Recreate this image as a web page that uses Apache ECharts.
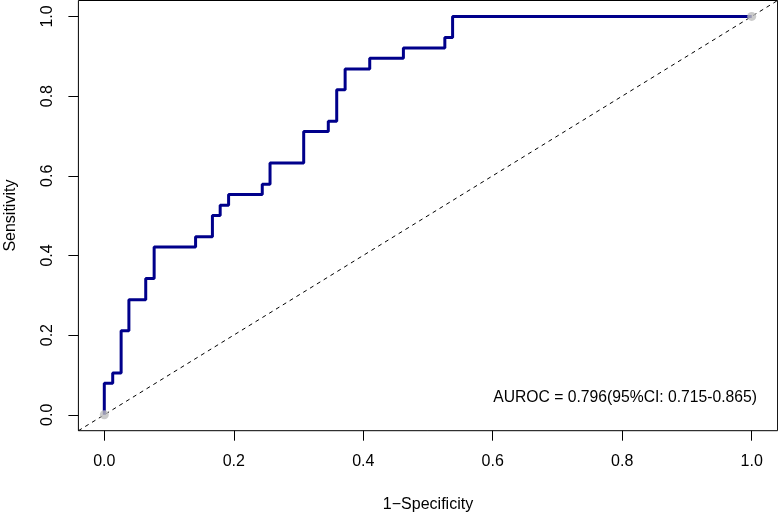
<!DOCTYPE html>
<html>
<head>
<meta charset="utf-8">
<script src="https://cdn.jsdelivr.net/npm/echarts@6/dist/echarts.min.js"></script>
<style>
  html, body { margin: 0; padding: 0; background: #fff; }
  #main { width: 778px; height: 514px; }
</style>
</head>
<body>
<div id="main"></div>
<script>
// ROC 曲线的拐点（1-特异度, 灵敏度），先水平后垂直
var fpr = [0, 0, 0.013, 0.026, 0.038, 0.064, 0.077, 0.141, 0.167, 0.179, 0.192,
           0.244, 0.256, 0.308, 0.346, 0.359, 0.372, 0.410, 0.462, 0.526, 0.538, 1];
var tpr = [0, 0.079, 0.105, 0.211, 0.289, 0.342, 0.421, 0.447, 0.5, 0.526, 0.553,
           0.579, 0.632, 0.711, 0.737, 0.816, 0.868, 0.895, 0.921, 0.947, 1, 1];
var endPoints = [[0, 0], [1, 1]];
var tickValues = [0, 0.2, 0.4, 0.6, 0.8, 1.0];
var aucText = 'AUROC = 0.796(95%CI: 0.715-0.865)';

var font = 'Liberation Sans, Arial, sans-serif';

var rocData = [];
for (var i = 0; i < fpr.length; i++) {
    rocData.push([fpr[i], tpr[i]]);
}

var myChart = echarts.init(document.getElementById('main'));

function axisCfg(name, nameGap, rotate) {
    return {
        type: 'value',
        min: -0.04,
        max: 1.04,
        name: name,
        nameLocation: 'middle',
        nameGap: nameGap,
        nameTextStyle: { fontFamily: font, fontSize: 16, color: '#000' },
        axisLine: { show: false, onZero: false },
        axisTick: {
            show: true, inside: false, length: 10,
            customValues: tickValues,
            lineStyle: { color: '#000', width: 1 }
        },
        axisLabel: {
            show: true, margin: 23, rotate: rotate,
            customValues: tickValues,
            fontFamily: font, fontSize: 16, color: '#000',
            formatter: function (v) { return v.toFixed(1); }
        },
        splitLine: { show: false }
    };
}

var option = {
    animation: false,
    grid: {
        left: 78.4, top: 0.5, width: 699.2, height: 430.2,
        outerBoundsMode: 'none',
        containLabel: false,
        show: true, borderColor: '#000', borderWidth: 1,
        backgroundColor: 'transparent'
    },
    xAxis: axisCfg('1\u2212Specificity', 66, 0),
    yAxis: axisCfg('Sensitivity', 60, 90),
    series: [
        {
            type: 'line',
            data: [[-0.04, -0.04], [1.04, 1.04]],
            showSymbol: false,
            lineStyle: { color: '#000', width: 1, type: [4, 4] },
            silent: true
        },
        {
            type: 'line',
            data: rocData,
            step: 'end',
            showSymbol: false,
            lineStyle: { color: '#00008B', width: 3 },
            silent: true
        },
        {
            type: 'scatter',
            data: endPoints,
            symbolSize: 9,
            itemStyle: { color: '#bebebe' },
            z: 5,
            silent: true
        }
    ],
    graphic: [{
        type: 'text',
        right: 21,
        top: 390,
        style: {
            text: aucText,
            font: '15.7px ' + font,
            fill: '#000'
        }
    }]
};

myChart.setOption(option);
</script>
</body>
</html>
